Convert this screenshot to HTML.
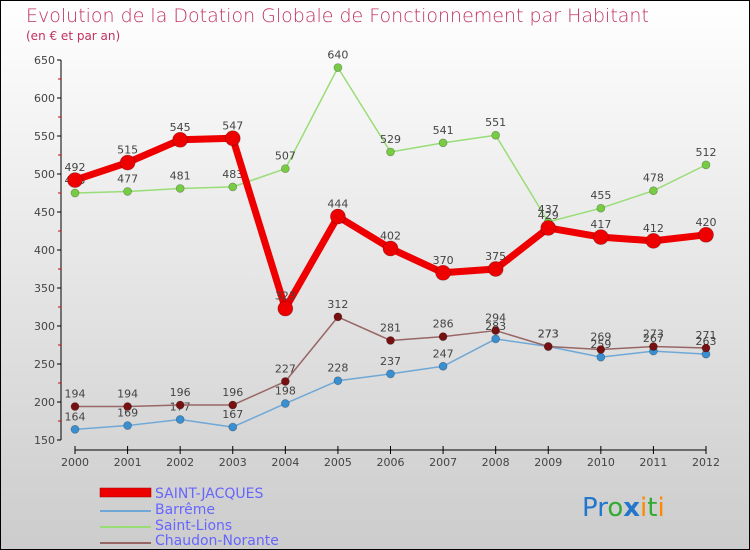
<!DOCTYPE html>
<html><head><meta charset="utf-8"><style>
body{margin:0;width:750px;height:550px;overflow:hidden}
svg{display:block;font-family:"DejaVu Sans","Liberation Sans",sans-serif}
</style></head><body>
<svg id="chart" width="750" height="550">
<defs><linearGradient id="bg" x1="0" y1="0" x2="0" y2="1"><stop offset="0" stop-color="#ffffff"/><stop offset="1" stop-color="#cccccc"/></linearGradient></defs>
<rect x="0.5" y="0.5" width="749" height="549" fill="url(#bg)" stroke="#000"/>
<text x="26" y="22" font-size="19" fill="#c0325f" font-weight="300">Evolution de la Dotation Globale de Fonctionnement par Habitant</text>
<text x="26" y="40" font-size="12" fill="#c0325f">(en € et par an)</text>
<g id="axes"></g><g id="series"></g>
<g>
<rect x="100" y="488" width="51" height="9" fill="#e00" stroke="#900" stroke-width="0.5"/>
<text x="155" y="498" font-size="14" fill="#6666ff">SAINT-JACQUES</text>
<line x1="100" y1="511" x2="151" y2="511" stroke="#6fa8d6" stroke-width="2"/>
<text x="155" y="514" font-size="14" fill="#6666ff">Barrême</text>
<line x1="100" y1="527" x2="151" y2="527" stroke="#99dd77" stroke-width="2"/>
<text x="155" y="530" font-size="14" fill="#6666ff">Saint-Lions</text>
<line x1="100" y1="543" x2="151" y2="543" stroke="#996666" stroke-width="2"/>
<text x="155" y="545" font-size="14" fill="#6666ff">Chaudon-Norante</text>
</g>
<text x="582" y="516" font-size="26" font-family="DejaVu Sans"><tspan fill="#2277cc">Pr</tspan><tspan fill="#33aa33">o</tspan><tspan fill="#2277cc" font-weight="bold">x</tspan><tspan fill="#ff8800">i</tspan><tspan fill="#33aa33">t</tspan><tspan fill="#ff8800">i</tspan></text>
</svg>
<script>
const years=["2000","2001","2002","2003","2004","2005","2006","2007","2008","2009","2010","2011","2012"];
const yTicks=[150,200,250,300,350,400,450,500,550,600,650];
const saintJacques=[492,515,545,547,323,444,402,370,375,429,417,412,420];
const barreme=[164,169,177,167,198,228,237,247,283,273,259,267,263];
const saintLions=[475,477,481,483,507,640,529,541,551,437,455,478,512];
const chaudon=[194,194,196,196,227,312,281,286,294,273,269,273,271];
const NS="http://www.w3.org/2000/svg";
const xS=i=>75+i*(706-75)/12;
const yS=v=>440-(v-150)*380/500;
function mk(t,a,p){const e=document.createElementNS(NS,t);for(const k in a)e.setAttribute(k,a[k]);p.appendChild(e);return e;}
const ax=document.getElementById('axes');
mk('line',{x1:61,y1:60,x2:61,y2:440,stroke:'#000'},ax);
mk('line',{x1:75,y1:450,x2:706,y2:450,stroke:'#000'},ax);
yTicks.forEach(v=>{mk('line',{x1:57,y1:yS(v),x2:61,y2:yS(v),stroke:'#000'},ax);
 if(v<650)mk('line',{x1:58,y1:yS(v+25),x2:61,y2:yS(v+25),stroke:'#d00'},ax);
 const t=mk('text',{x:55,y:yS(v)+4,'font-size':11,fill:'#444','text-anchor':'end'},ax);t.textContent=v;
 
 });
years.forEach((y,i)=>{mk('line',{x1:xS(i),y1:446,x2:xS(i),y2:454,stroke:'#000'},ax);
 const t=mk('text',{x:xS(i),y:466,'font-size':11,fill:'#444','text-anchor':'middle'},ax);t.textContent=y;
 
 });
const sg=document.getElementById('series');
function draw(vals,col,dot,w,r,name){
 const g=mk('g',{},sg);
 
 
 const pl=mk('polyline',{points:vals.map((v,i)=>xS(i)+','+yS(v)).join(' '),fill:'none',stroke:col,'stroke-width':w,'stroke-linejoin':'round'},g);
 
 
 vals.forEach((v,i)=>{const c=mk('circle',{cx:xS(i),cy:yS(v),r:r,fill:dot,stroke:'rgba(0,0,0,0.3)','stroke-width':0.7},g);
  
  
  const t=mk('text',{x:xS(i),y:yS(v)-9,'font-size':11,fill:'#444','text-anchor':'middle'},g);t.textContent=v;
  
  });
}
draw(barreme,'#6fa8d6','#3a8fd0',1.5,4,'barreme');
draw(saintLions,'#99dd77','#77cc44',1.5,4,'saint-lions');
draw(chaudon,'#996666','#771111',1.5,4,'chaudon-norante');
draw(saintJacques,'#ee0000','#ee0000',7,7.5,'saint-jacques');
</script>
</body></html>
